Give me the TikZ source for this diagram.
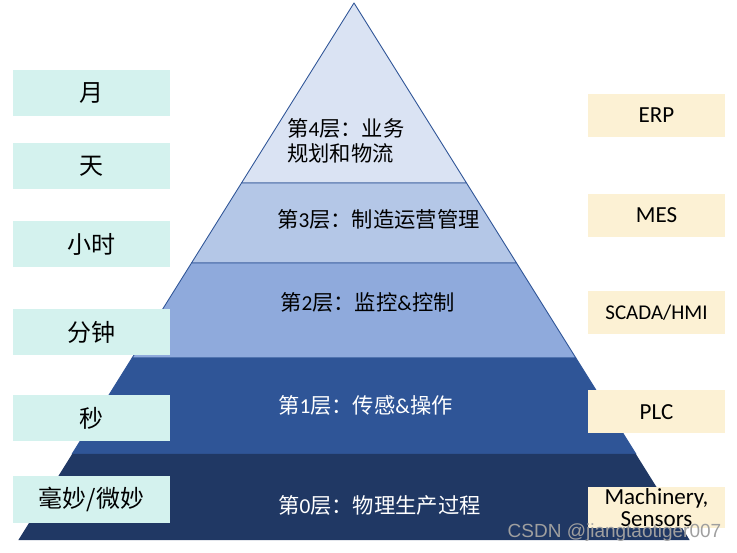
\documentclass[tikz,border=0pt]{standalone}
\usepackage{fontspec}
\setmainfont{Carlito}
\newfontfamily\cjkfont{Noto Sans CJK SC}
\newfontfamily\wmfont{Liberation Sans}
\usepackage{xcolor}
\usepackage{tikz}
\usetikzlibrary{positioning}

\definecolor{layfour}{HTML}{DAE3F3}
\definecolor{laythree}{HTML}{B4C7E7}
\definecolor{laytwo}{HTML}{8FAADC}
\definecolor{layone}{HTML}{2F5597}
\definecolor{layzero}{HTML}{203864}
\definecolor{layline}{HTML}{2F5597}
\definecolor{timefill}{HTML}{D4F2EE}
\definecolor{sysfill}{HTML}{FCF1D4}

\newcommand{\zh}[1]{{\cjkfont #1}}

\begin{document}
\begin{tikzpicture}[x=1pt, y=-1pt,
    timebox/.style={fill=timefill, minimum width=157pt, minimum height=46pt, inner sep=0pt, font=\cjkfont\fontsize{24}{28}\selectfont},
    sysbox/.style={fill=sysfill, minimum width=137pt, minimum height=43pt, inner sep=0pt, align=center, font=\fontsize{23}{24}\selectfont},
    laytext/.style={anchor=west, inner sep=0pt, align=left, font=\fontsize{21.3}{25}\selectfont}
]
\useasboundingbox (0,0) rectangle (737,553);

% pyramid, one band per layer
\foreach \ytop/\ybot/\col in {3/183/layfour, 183/263/laythree, 263/358/laytwo, 358/454/layone}{
  \filldraw[fill=\col, draw=layline, line width=0.9pt, line join=round]
    ({354-0.625*(\ytop-3)},\ytop) -- ({354+0.625*(\ytop-3)},\ytop)
    -- ({354+0.625*(\ybot-3)},\ybot) -- ({354-0.625*(\ybot-3)},\ybot) -- cycle;
}
\fill[layzero] ({354-0.625*451},454) -- ({354+0.625*451},454) -- ({354+0.625*537},540) -- ({354-0.625*537},540) -- cycle;

% layer texts
\node[laytext] (lfour) at (287,141) {\zh{第}4\zh{层：业务}\\\zh{规划和物流}};
\node[laytext] (lthree) at (277,219) {\zh{第}3\zh{层：制造运营管理}};
\node[laytext] (ltwo) at (280,302) {\zh{第}2\zh{层：监控}\&\zh{控制}};
\node[laytext, text=white] (lone) at (278,405) {\zh{第}1\zh{层：传感}\&\zh{操作}};
\node[laytext, text=white] (lzero) at (278,505) {\zh{第}0\zh{层：物理生产过程}};

% time scale
\node[timebox] (month) at (91.5,93) {月};
\node[timebox] (day) at (91.5,166) {天};
\node[timebox] (hour) at (91.5,244) {小时};
\node[timebox] (minute) at (91.5,332) {分钟};
\node[timebox] (second) at (91.5,418) {秒};
\node[timebox] (milli) at (91.5,499.5) {毫妙/微妙};

% systems
\node[sysbox] (erp) at (656.5,115.5) {ERP};
\node[sysbox] (mes) at (656.5,215.5) {MES};
\node[sysbox, font=\fontsize{21}{22}\selectfont] (scada) at (656.5,313) {SCADA/HMI};
\node[sysbox, minimum height=41pt, font=\fontsize{23}{22}\selectfont] (mach) at (656.5,507.5) {Machinery,\\Sensors};
\node[sysbox] (plc) at (656.5,412) {PLC};

\node[text=gray!75, font=\wmfont\fontsize{19}{20}\selectfont, inner sep=0pt] (mark) at (614.5,533) {CSDN @jiangtaotiger007};
\end{tikzpicture}
\end{document}
